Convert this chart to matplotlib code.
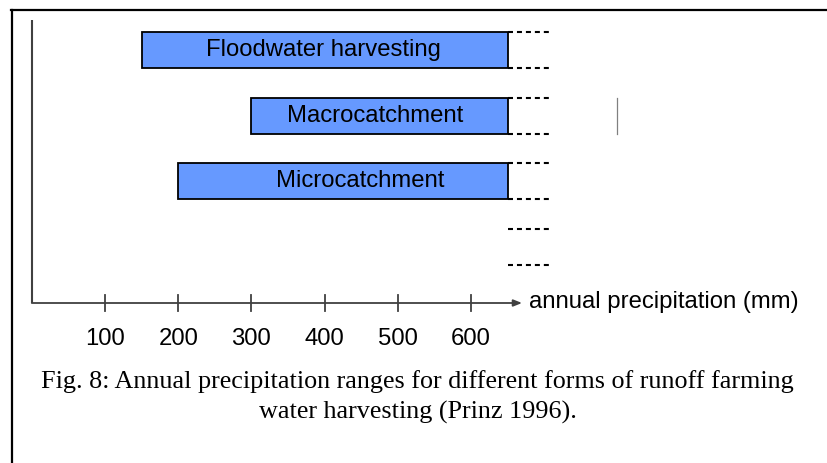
import matplotlib
matplotlib.use("Agg")
import matplotlib.pyplot as plt
from matplotlib.lines import Line2D

# ---- data ----
categories = ["Floodwater harvesting", "Macrocatchment", "Microcatchment"]
range_low = [150, 300, 200]
range_high = [650, 650, 650]
dashed_end = 710
tick_values = [100, 200, 300, 400, 500, 600]
tick_labels = ["100", "200", "300", "400", "500", "600"]
marker_value = 800
xlabel = "annual precipitation (mm)"
caption_lines = ["Fig. 8: Annual precipitation ranges for different forms of runoff farming",
                 "water harvesting (Prinz 1996)."]

# ---- layout ----
W, H = 827, 463
fig = plt.figure(figsize=(W / 100, H / 100), dpi=100)
ax = fig.add_axes([0, 0, 1, 1])
pxu = 0.732          # pixels per mm
x0 = 31.8            # pixel of 0 mm
slot = 65.7          # pixels per category slot
y0 = 50              # pixel of slot 0 centre
ax.set_xlim(-x0 / pxu, (W - x0) / pxu)
ax.set_ylim((H - y0) / slot, -y0 / slot)
ax.axis("off")

def py(p):  # pixel row -> slot units
    return (p - y0) / slot

bar_h = 36 / slot
sans = "Liberation Sans"
serif = "Liberation Serif"
fs = 17.2

widths = [h - l for l, h in zip(range_low, range_high)]
ax.barh(range(len(categories)), widths, left=range_low, height=bar_h,
        color="#6699FF", edgecolor="black", linewidth=1.3, zorder=3)

label_x = [398, 469, 448]
for i, (c, lx) in enumerate(zip(categories, label_x)):
    ax.text(lx, i, c, ha="center", va="center", fontsize=fs,
            family=sans, color="black", zorder=4)

# dashed continuation lines
for i in range(4):
    for e in (-bar_h / 2, bar_h / 2):
        ax.plot([range_high[0], dashed_end], [i + e, i + e], color="black",
                lw=1.5, dashes=(2.4, 1.9), zorder=2, dash_capstyle="butt")

# thin vertical marker
ax.plot([marker_value, marker_value], [1 - bar_h / 2, 1 + bar_h / 2],
        color="#808080", lw=0.9)

# axes lines
yax = py(303)
axis_col = "#404040"
ax.plot([0, 0], [py(20), yax], color=axis_col, lw=1.5, solid_capstyle="butt")
ax.annotate("", xy=((522 - x0) / pxu, yax), xytext=(0, yax),
            arrowprops=dict(arrowstyle="-|>,head_length=0.5,head_width=0.2",
                            color=axis_col, lw=1.3, shrinkA=0, shrinkB=0))
for v, t in zip(tick_values, tick_labels):
    ax.plot([v, v], [py(295), py(311)], color=axis_col, lw=1.3)
    ax.text(v, py(339), t, ha="center", va="center", fontsize=fs,
            family=sans, color="black")
ax.text((529 - x0) / pxu, py(302), xlabel, ha="left", va="center",
        fontsize=fs, family=sans, color="black")

# caption
fig.text(417.5 / W, 1 - 382 / H, caption_lines[0], ha="center", va="center",
         fontsize=18.8, family=serif, color="black")
fig.text(417.5 / W, 1 - 412 / H, caption_lines[1], ha="center", va="center",
         fontsize=18.8, family=serif, color="black")

# page frame lines
fig.add_artist(Line2D([11 / W, 1], [1 - 10 / H, 1 - 10 / H],
                      transform=fig.transFigure, color="black", lw=1.6))
fig.add_artist(Line2D([11.5 / W, 11.5 / W], [1 - 10 / H, 0],
                      transform=fig.transFigure, color="black", lw=1.6))

fig.savefig("out.png", dpi=100)
